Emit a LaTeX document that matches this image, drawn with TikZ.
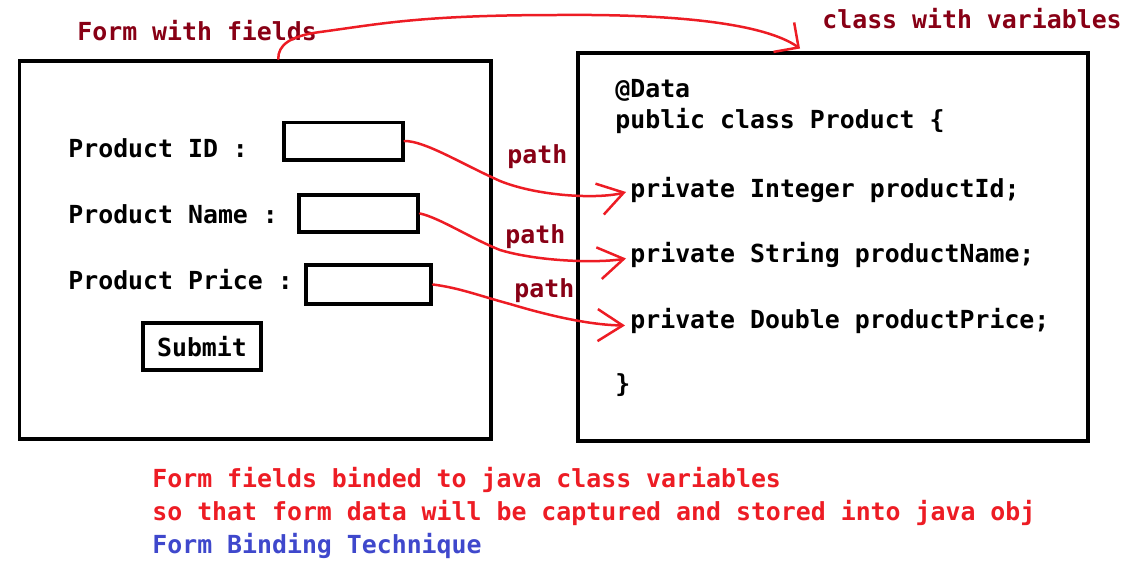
\documentclass[tikz,border=0pt]{standalone}
\usepackage{fontspec}
\setmonofont{DejaVu Sans Mono}
\usepackage{xcolor}
\definecolor{cRed}{HTML}{ED1C24}
\definecolor{cNote}{HTML}{880015}
\definecolor{cBlue}{HTML}{3F48CC}
\usepackage{tikz}
\usetikzlibrary{arrows.meta,fit,calc}
\newcommand\codefont{\ttfamily\bfseries\fontsize{14.15pt}{17pt}\selectfont}
\tikzset{
  node-frame/.style={draw=black,line width=0.08cm,inner sep=0pt},
  node-field/.style={draw=black,line width=0.08cm,inner sep=0pt},
  node-text/.style={anchor=base west,inner sep=0pt},
  node-note/.style={node-text,text=cNote},
  % hand drawn red connectors: field -> variable, form -> class
  arrow-bind/.style={draw=cRed,line width=0.05cm,line cap=round,line join=round,
    -{Straight Barb[length=0.5cm,width=0.64cm]}},
  arrow-link/.style={draw=cRed,line width=0.05cm,line cap=round,line join=round,
    -{Straight Barb[length=0.36cm,width=0.72cm]}},
}

\begin{document}
\begin{tikzpicture}[x=0.02cm,y=-0.02cm,every node/.append style={font=\codefont}]
  \useasboundingbox (0,0) rectangle (1142,571);
  \node[node-frame,fit={(19.5,61) (491,439)}]      (form)   {};
  \node[node-frame,fit={(578,53.5) (1088,441)}]    (cls)    {};
  \node[node-field,fit={(283.5,122.5) (402.5,159.5)}] (fid)    {};
  \node[node-field,fit={(299,195) (418,232)}]      (fname)  {};
  \node[node-field,fit={(306,265) (431,304)}]      (fprice) {};
  \node[node-field,fit={(143,323) (261,370)}]      (sub)    {};
  \node[inner sep=0pt] (tsub) at (sub.center) {Submit};
  \node[node-text] (lid)    at (68,157) {Product ID :};
  \node[node-text] (lname)  at (68,223) {Product Name :};
  \node[node-text] (lprice) at (68,289) {Product Price :};
  \node[node-note] (tform)  at (77,41)  {Form with fields};
  \node[node-note] (tcls)   at (822,29) {class with variables};
  \node[node-text] (anno)   at (615,97)  {@Data};
  \node[node-text] (head)   at (615,129) {public class Product \{};
  \node[node-text] (vid)    at (630,197) {private Integer productId;};
  \node[node-text] (vname)  at (630,262) {private String productName;};
  \node[node-text] (vprice) at (630,328) {private Double productPrice;};
  \node[node-text] (close)  at (615,392) {\}};
  \node[node-note] (p1) at (507,163) {path};
  \node[node-note] (p2) at (505,243) {path};
  \node[node-note] (p3) at (514,297) {path};
  \node[node-text,text=cRed]  (n1) at (152,487) {Form fields binded to java class variables};
  \node[node-text,text=cRed]  (n2) at (152,520) {so that form data will be captured and stored into java obj};
  \node[node-text,text=cBlue] (n3) at (152,553) {Form Binding Technique};
  \draw[arrow-link] ($(form.north)+(23,0)$) .. controls (278,45) and (290,36) .. (320,32)
    .. controls (380,24) and (420,15) .. (560,15) .. controls (680,14) and (765,24) .. ($(cls.north)+(-33,-3)$);
  \draw[arrow-bind] (fid.east) .. controls (425,141) and (460,163) .. (500,181)
    .. controls (540,197) and (600,199) .. ([xshift=-0.08cm,yshift=-0.05cm]vid.west);
  \draw[arrow-bind] (fname.east) .. controls (440,218) and (470,238) .. (500,250)
    .. controls (540,262) and (600,263) .. ([xshift=-0.08cm,yshift=-0.08cm]vname.west);
  \draw[arrow-bind] (fprice.east) .. controls (460,288) and (480,296) .. (510,304)
    .. controls (550,316) and (590,325) .. ([xshift=-0.1cm,yshift=-0.1cm]vprice.west);
\end{tikzpicture}
\end{document}
